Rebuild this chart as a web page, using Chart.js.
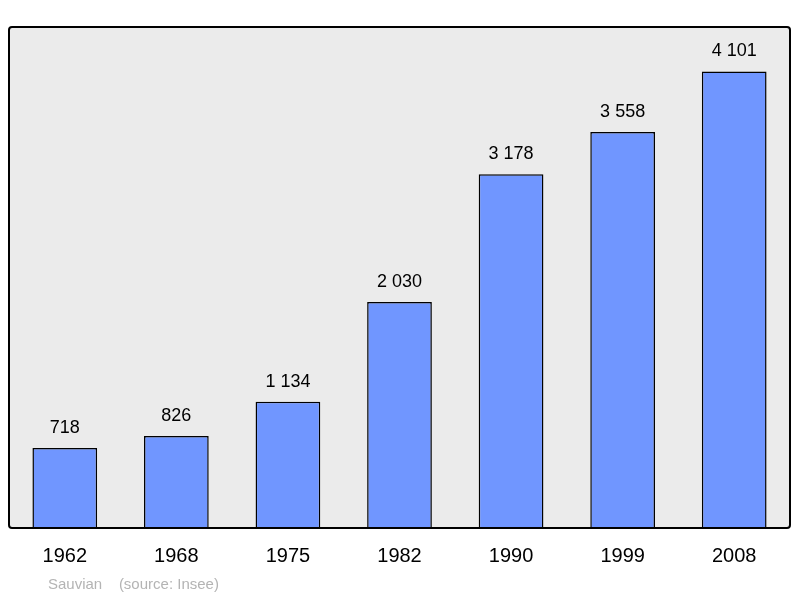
<!DOCTYPE html>
<html>
<head>
<meta charset="utf-8">
<script src="https://cdn.jsdelivr.net/npm/chart.js@4"></script>
<style>
  html, body { margin: 0; padding: 0; background: #fff; }
  #wrap { width: 800px; height: 598px; }
</style>
</head>
<body>
<div id="wrap"><canvas id="chart" width="800" height="598"></canvas></div>
<script>
const YEARS = ['1962', '1968', '1975', '1982', '1990', '1999', '2008']
const POPULATION = [718, 826, 1134, 2030, 3178, 3558, 4101]
const FOOTER = 'Sauvian    (source: Insee)'

function formatValue(v) {
  return String(v).replace(/\B(?=(\d{3})+(?!\d))/g, ' ')
}

const framePlugin = {
  id: 'frame',
  beforeDatasetsDraw(chart) {
    const { ctx, chartArea: a } = chart
    ctx.save()
    ctx.fillStyle = '#ebebeb'
    ctx.fillRect(a.left, a.top, a.right - a.left, a.bottom - a.top)
    ctx.restore()
  },
  afterDatasetsDraw(chart) {
    const { ctx, chartArea: a } = chart
    ctx.save()
    ctx.strokeStyle = '#000'
    ctx.lineWidth = 2
    ctx.beginPath()
    ctx.roundRect(a.left, a.top, a.right - a.left, a.bottom - a.top, 3)
    ctx.stroke()

    ctx.fillStyle = '#000'
    ctx.font = '18px "Liberation Sans", Arial, sans-serif'
    ctx.textAlign = 'center'
    ctx.textBaseline = 'alphabetic'
    chart.getDatasetMeta(0).data.forEach((bar, i) => {
      ctx.fillText(formatValue(POPULATION[i]), bar.x, bar.y - 15)
    })

    ctx.fillStyle = '#b4b4b4'
    ctx.font = '15px "Liberation Sans", Arial, sans-serif'
    ctx.textAlign = 'left'
    ctx.fillText(FOOTER, 48, 589)
    ctx.restore()
  },
}

new Chart(document.getElementById('chart'), {
  type: 'bar',
  data: {
    labels: YEARS,
    datasets: [
      {
        data: POPULATION,
        backgroundColor: '#7096ff',
        borderColor: '#000',
        borderWidth: 1.5,
        borderSkipped: 'bottom',
        categoryPercentage: 1,
        barPercentage: 0.58,
      },
    ],
  },
  options: {
    responsive: false,
    animation: false,
    layout: { padding: { left: 9, top: 27, right: 10, bottom: 0 } },
    scales: {
      x: {
        grid: { display: false, drawTicks: false },
        border: { display: false },
        ticks: {
          color: '#000',
          padding: 16,
          font: { family: '"Liberation Sans", Arial, sans-serif', size: 20 },
        },
        afterFit(scale) {
          scale.height = 70
        },
      },
      y: {
        display: false,
        min: 0,
        max: 4500,
      },
    },
    plugins: {
      legend: { display: false },
      tooltip: { enabled: false },
    },
  },
  plugins: [framePlugin],
})
</script>
</body>
</html>
